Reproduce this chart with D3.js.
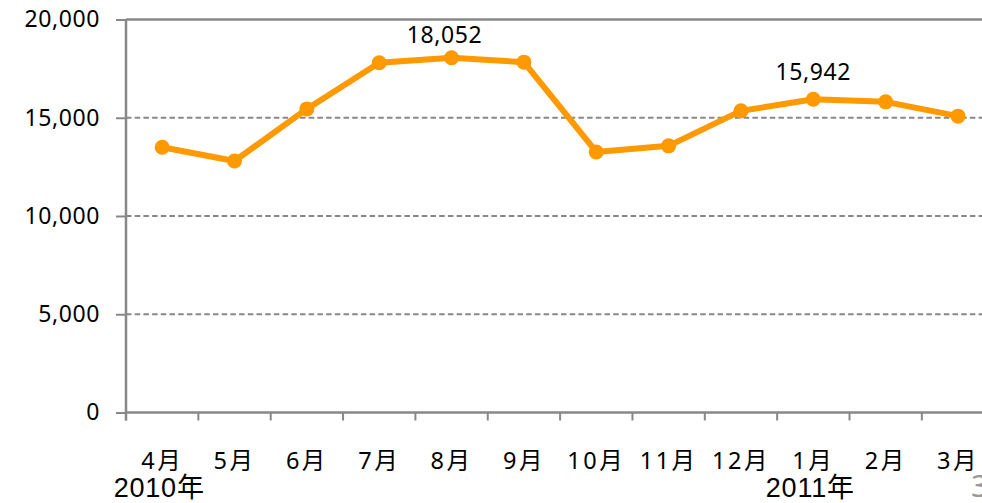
<!DOCTYPE html>
<html>
<head>
<meta charset="utf-8">
<script src="https://cdn.jsdelivr.net/npm/d3@7"></script>
<style>
  html, body { margin: 0; padding: 0; background: #fff; }
  svg { display: block; }
  text { font-family: "Noto Sans", "Noto Sans CJK JP", sans-serif; fill: #000; }
</style>
</head>
<body>
<svg id="chart" width="982" height="503"></svg>
<script>
// Monthly totals, April 2010 – March 2011
const months = ["4月", "5月", "6月", "7月", "8月", "9月", "10月", "11月", "12月", "1月", "2月", "3月"];
const values = [13500, 12800, 15450, 17800, 18052, 17830, 13260, 13570, 15350, 15942, 15810, 15080];
const yTicks = [0, 5000, 10000, 15000, 20000];
const labeledMonths = ["8月", "1月"];
const yearLabels = [
  { month: "4月", text: "2010年" },
  { month: "1月", text: "2011年" }
];

const svg = d3.select("#chart");
const W = 982, H = 503;
const plotLeft = 126, plotTop = 19.5, plotBottom = 412.5;
const step = 72.35;
const axisColor = "#888888";
const lineColor = "#FF9900";

// nudges for the value labels so they clear the line segments
const labelNudge = { "8月": { dx: -7, dy: -15 }, "1月": { dx: 0, dy: -19 } };

const x = d3.scaleBand().domain(months).range([plotLeft, plotLeft + step * months.length]).padding(0);
const y = d3.scaleLinear().domain([0, 20000]).range([plotBottom, plotTop]);
const cx = d => x(d.month) + x.bandwidth() / 2;

// horizontal gridlines (dashed) and the solid top border
svg.append("g").selectAll("line")
  .data(yTicks.filter(d => d > 0))
  .join("line")
  .attr("x1", plotLeft).attr("x2", W)
  .attr("y1", d => y(d)).attr("y2", d => y(d))
  .attr("stroke", axisColor)
  .attr("stroke-width", d => d === 20000 ? 2.5 : 2)
  .attr("stroke-dasharray", d => d === 20000 ? null : "5.5,3.2");

// y axis
const yAxis = svg.append("g")
  .attr("transform", `translate(${plotLeft},0)`)
  .call(d3.axisLeft(y).tickValues(yTicks).tickFormat(d3.format(",")).tickSize(10).tickPadding(16));
yAxis.select(".domain").remove();
yAxis.selectAll(".tick line").attr("stroke", axisColor).attr("stroke-width", 2);
yAxis.selectAll(".tick text")
  .style("font-size", "23px")
  .style("letter-spacing", "0.6px")
  .attr("fill", "#000");
svg.append("line")
  .attr("x1", plotLeft).attr("x2", plotLeft)
  .attr("y1", plotTop).attr("y2", plotBottom + 8)
  .attr("stroke", axisColor).attr("stroke-width", 2.5);

// x axis baseline and category boundary ticks
svg.append("line")
  .attr("x1", plotLeft).attr("x2", W)
  .attr("y1", y(0)).attr("y2", y(0))
  .attr("stroke", axisColor).attr("stroke-width", 2.5);
svg.append("g").selectAll("line")
  .data(months)
  .join("line")
  .attr("x1", d => x(d)).attr("x2", d => x(d))
  .attr("y1", y(0)).attr("y2", y(0) + 8)
  .attr("stroke", axisColor).attr("stroke-width", 2);

// month labels
const xAxis = svg.append("g")
  .attr("transform", `translate(0,${y(0)})`)
  .call(d3.axisBottom(x).tickSize(0).tickPadding(0));
xAxis.select(".domain").remove();
xAxis.selectAll(".tick text")
  .attr("y", 56.5)
  .attr("dy", null)
  .style("font-size", "23.5px")
  .style("letter-spacing", "2.5px")
  .attr("fill", "#000");

// year labels
svg.append("g").selectAll("text")
  .data(yearLabels)
  .join("text")
  .attr("x", d => x(d.month) + x.bandwidth() / 2 - 3)
  .attr("y", 497)
  .attr("text-anchor", "middle")
  .style("font-family", "'Liberation Sans', 'Noto Sans CJK JP', sans-serif")
  .style("font-size", "27px")
  .style("letter-spacing", "0.8px")
  .text(d => d.text);

// series line
const data = months.map((m, i) => ({ month: m, value: values[i] }));
const line = d3.line().x(cx).y(d => y(d.value));
svg.append("path")
  .datum(data)
  .attr("d", line)
  .attr("fill", "none")
  .attr("stroke", lineColor)
  .attr("stroke-width", 6)
  .attr("stroke-linejoin", "round");
svg.append("g").selectAll("circle")
  .data(data)
  .join("circle")
  .attr("cx", cx)
  .attr("cy", d => y(d.value))
  .attr("r", 7.5)
  .attr("fill", lineColor);

// value labels
svg.append("g").selectAll("text")
  .data(data.filter(d => labeledMonths.includes(d.month)))
  .join("text")
  .attr("x", d => cx(d) + labelNudge[d.month].dx)
  .attr("y", d => y(d.value) + labelNudge[d.month].dy)
  .attr("text-anchor", "middle")
  .style("font-size", "23px")
  .style("letter-spacing", "0.6px")
  .text(d => d3.format(",")(d.value));

// page number at the lower right corner
svg.append("text")
  .attr("x", 971)
  .attr("y", 497)
  .style("font-size", "30px")
  .style("fill", "#999")
  .text("3");
</script>
</body>
</html>
